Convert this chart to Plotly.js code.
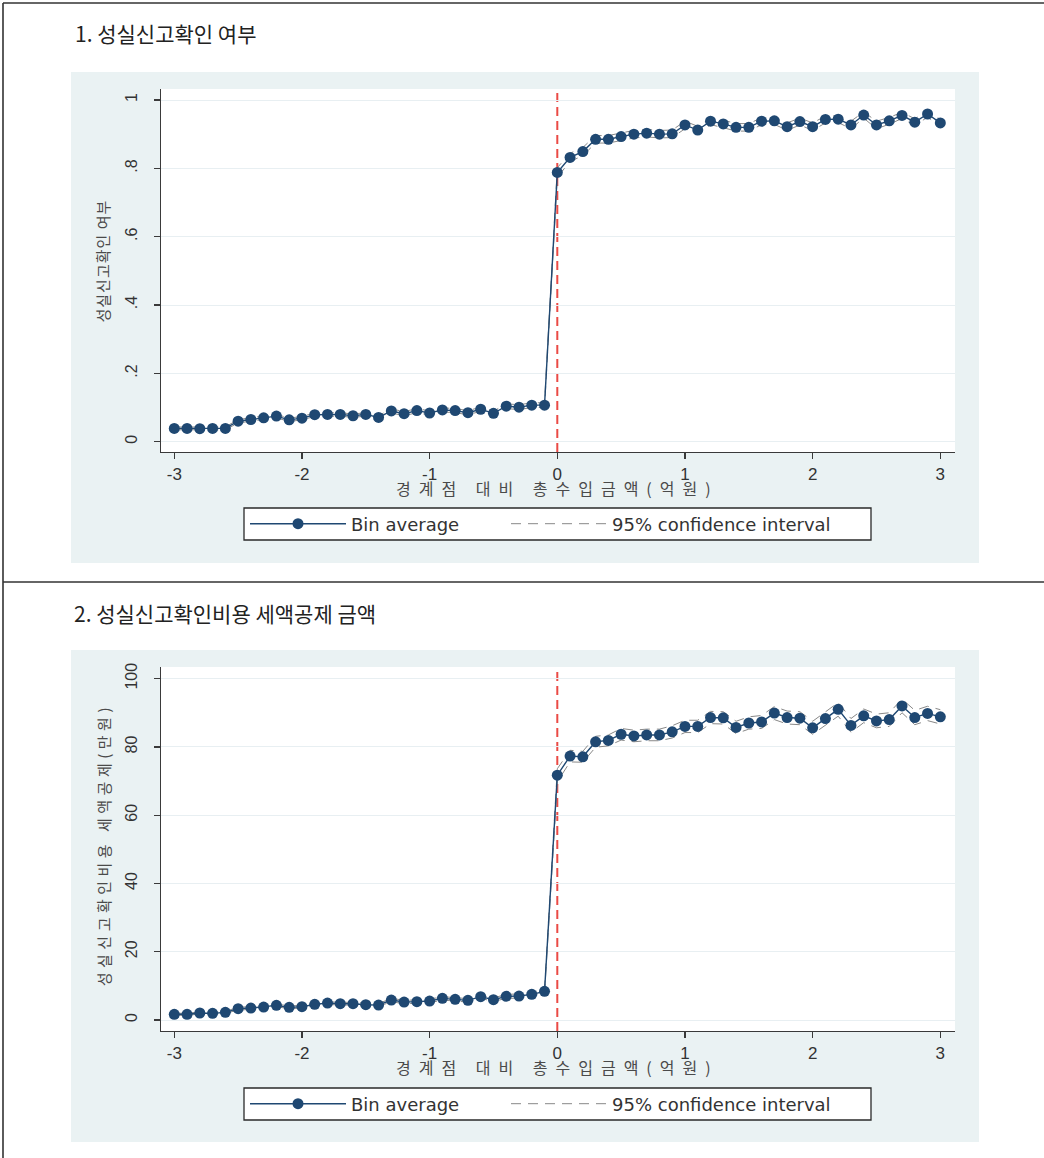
<!DOCTYPE html>
<html>
<head>
<meta charset="utf-8">
<script src="https://cdn.plot.ly/plotly-3.0.1.min.js"></script>
<style>
  html, body { margin: 0; padding: 0; background: #ffffff; }
  #chart { width: 1044px; height: 1158px; }
  /* Stata-style wide spacing for the Korean axis titles */
  #chart .annotation[data-index="2"] .annotation-text { letter-spacing: 1px; }
  #chart .annotation[data-index="3"] .annotation-text { letter-spacing: 4.5px; }
  #chart .annotation[data-index="4"] .annotation-text,
  #chart .annotation[data-index="5"] .annotation-text { letter-spacing: 8px; }
</style>
</head>
<body>
<div id="chart"></div>
<script>
// Bin centres: total revenue relative to the threshold (억원)
const binX = [
  -3.0, -2.9, -2.8, -2.7, -2.6, -2.5, -2.4, -2.3, -2.2, -2.1,
  -2.0, -1.9, -1.8, -1.7, -1.6, -1.5, -1.4, -1.3, -1.2, -1.1,
  -1.0, -0.9, -0.8, -0.7, -0.6, -0.5, -0.4, -0.3, -0.2, -0.1,
   0.0,  0.1,  0.2,  0.3,  0.4,  0.5,  0.6,  0.7,  0.8,  0.9,
   1.0,  1.1,  1.2,  1.3,  1.4,  1.5,  1.6,  1.7,  1.8,  1.9,
   2.0,  2.1,  2.2,  2.3,  2.4,  2.5,  2.6,  2.7,  2.8,  2.9, 3.0
];

// 1. 성실신고확인 여부 — bin averages and 95% CI half-widths
const confirmShare = [
  0.039, 0.039, 0.038, 0.039, 0.039, 0.060, 0.065, 0.070, 0.075, 0.064,
  0.069, 0.079, 0.080, 0.080, 0.076, 0.080, 0.071, 0.090, 0.082, 0.091,
  0.084, 0.093, 0.091, 0.085, 0.095, 0.083, 0.104, 0.101, 0.107, 0.107,
  0.788, 0.832, 0.849, 0.885, 0.885, 0.893, 0.900, 0.903, 0.900, 0.901,
  0.927, 0.912, 0.938, 0.930, 0.920, 0.920, 0.938, 0.939, 0.922, 0.937,
  0.922, 0.943, 0.944, 0.927, 0.956, 0.927, 0.939, 0.955, 0.935, 0.959, 0.933
];
const confirmShareCI = [
  0.004, 0.004, 0.004, 0.004, 0.004, 0.005, 0.005, 0.005, 0.005, 0.005,
  0.005, 0.005, 0.005, 0.005, 0.005, 0.005, 0.005, 0.006, 0.006, 0.006,
  0.006, 0.006, 0.006, 0.006, 0.006, 0.006, 0.007, 0.007, 0.007, 0.007,
  0.014, 0.012, 0.012, 0.011, 0.011, 0.011, 0.011, 0.011, 0.011, 0.011,
  0.011, 0.011, 0.010, 0.011, 0.011, 0.011, 0.010, 0.010, 0.011, 0.010,
  0.011, 0.010, 0.010, 0.011, 0.009, 0.011, 0.010, 0.009, 0.010, 0.009, 0.010
];

// 2. 성실신고확인비용 세액공제 금액 (만원) — bin averages and 95% CI half-widths
const creditAmount = [
  1.67, 1.67, 2.05, 1.95, 2.24, 3.32, 3.51, 3.80, 4.29, 3.71,
  3.90, 4.58, 4.97, 4.78, 4.78, 4.49, 4.39, 5.85, 5.27, 5.37,
  5.56, 6.34, 6.05, 5.76, 6.83, 5.95, 6.93, 7.02, 7.51, 8.39,
  71.7, 77.3, 77.1, 81.5, 81.9, 83.7, 83.2, 83.5, 83.5, 84.4,
  86.0, 86.0, 88.6, 88.5, 85.7, 87.0, 87.3, 89.9, 88.6, 88.4,
  85.6, 88.3, 91.0, 86.3, 89.1, 87.6, 88.0, 92.0, 88.6, 89.8, 88.8
];
const creditAmountCI = [
  0.3, 0.3, 0.3, 0.3, 0.3, 0.4, 0.4, 0.4, 0.4, 0.4,
  0.4, 0.4, 0.4, 0.4, 0.4, 0.4, 0.4, 0.5, 0.5, 0.5,
  0.5, 0.5, 0.5, 0.5, 0.5, 0.5, 0.6, 0.6, 0.6, 0.6,
  1.9, 1.7, 1.6, 1.6, 1.6, 1.7, 1.7, 1.7, 1.7, 1.8,
  1.8, 1.8, 1.8, 1.8, 1.8, 1.8, 1.9, 1.9, 1.9, 1.9,
  1.9, 1.9, 2.0, 2.0, 2.0, 2.0, 2.0, 2.0, 2.1, 2.1, 2.1
];

const xTickVals = [-3, -2, -1, 0, 1, 2, 3];
const xTickText = ['-3', '-2', '-1', '0', '1', '2', '3'];
const yTickVals1 = [0, 0.2, 0.4, 0.6, 0.8, 1];
const yTickText1 = ['0', '.2', '.4', '.6', '.8', '1'];
const yTickVals2 = [0, 20, 40, 60, 80, 100];

const panelTitles = ['1. 성실신고확인 여부', '2. 성실신고확인비용 세액공제 금액'];
const yTitles = ['성실신고확인 여부', '성실신고확인비용 세액공제(만원)'];
const xTitle = '경계점 대비 총수입금액(억원)';
const seriesNames = ['Bin average', '95% confidence interval'];

// ---- page geometry (pixels -> paper fractions)
const W = 1044, H = 1158;
const fx = p => p / W;
const fy = p => 1 - p / H;

const NAVY = '#1f4872';
const LATIN = 'Liberation Sans, Arial, sans-serif';
const KOR = 'Noto Sans CJK KR, sans-serif';

function avgTrace(y, xa, ya, legend) {
  return {
    type: 'scatter', mode: 'lines+markers', x: binX, y: y,
    xaxis: xa, yaxis: ya, legend: legend,
    name: seriesNames[0],
    line: { color: NAVY, width: 1.4 },
    marker: { color: NAVY, size: 11, line: { width: 0 } },
    hoverinfo: 'skip'
  };
}
function ciTrace(y, half, xa, ya, legend) {
  const hi = y.map((v, i) => v + half[i]);
  const lo = y.map((v, i) => v - half[i]);
  return {
    type: 'scatter', mode: 'lines',
    x: binX.concat([null], binX), y: hi.concat([null], lo),
    connectgaps: false,
    xaxis: xa, yaxis: ya, legend: legend,
    name: seriesNames[1],
    line: { color: '#888888', width: 1, dash: '10px,7px' },
    hoverinfo: 'skip'
  };
}

const data = [
  ciTrace(confirmShare, confirmShareCI, 'x', 'y', 'legend3'),
  avgTrace(confirmShare, 'x', 'y', 'legend'),
  ciTrace(creditAmount, creditAmountCI, 'x2', 'y2', 'legend4'),
  avgTrace(creditAmount, 'x2', 'y2', 'legend2')
];

const axisLine = '#3a3a3a';
function xAxis(anchor) {
  return {
    domain: [fx(161), fx(955)], anchor: anchor,
    range: [-3.104, 3.115], tickvals: xTickVals, ticktext: xTickText,
    showline: true, linecolor: axisLine, linewidth: 1.3,
    ticks: 'outside', ticklen: 6, tickcolor: axisLine, tickwidth: 1.3,
    tickfont: { family: LATIN, size: 17, color: '#333' },
    showgrid: false, zeroline: false, fixedrange: true
  };
}
function yAxis(dom, range, vals, text, anchor) {
  const a = {
    domain: dom, anchor: anchor, range: range, tickvals: vals,
    tickangle: -90, ticklabelstandoff: 10,
    showline: true, linecolor: axisLine, linewidth: 1.3,
    ticks: 'outside', ticklen: 6, tickcolor: axisLine, tickwidth: 1.3,
    tickfont: { family: LATIN, size: 16, color: '#333' },
    showgrid: true, gridcolor: '#e8eff2', gridwidth: 1,
    zeroline: false, fixedrange: true
  };
  if (text) a.ticktext = text;
  return a;
}

function legendAt(left, centerY) {
  return {
    x: fx(left), xanchor: 'left', y: fy(centerY), yanchor: 'middle',
    orientation: 'h', bgcolor: 'rgba(0,0,0,0)', borderwidth: 0,
    itemwidth: 96,
    font: { family: 'DejaVu Sans, sans-serif', size: 18, color: '#333' }
  };
}

const shapes = [];
// panel backgrounds and white plot regions
[[72, 563, 89, 452], [650, 1142, 667, 1031]].forEach(([t, b, pt, pb]) => {
  shapes.push({ type: 'rect', xref: 'paper', yref: 'paper', layer: 'below',
    x0: fx(71), x1: fx(979), y0: fy(b), y1: fy(t),
    fillcolor: '#eaf2f3', line: { width: 0 } });
  shapes.push({ type: 'rect', xref: 'paper', yref: 'paper', layer: 'below',
    x0: fx(161), x1: fx(955), y0: fy(pb), y1: fy(pt),
    fillcolor: '#ffffff', line: { width: 0 } });
});
// threshold markers at 0
[['x', 'y domain'], ['x2', 'y2 domain']].forEach(([xr, yr]) => {
  shapes.push({ type: 'line', xref: xr, yref: yr, layer: 'below',
    x0: 0, x1: 0, y0: 0, y1: 1,
    line: { color: '#ea4a45', width: 2, dash: '9px,5px' } });
});
// legend frames
[[508, 540], [1088, 1120]].forEach(([t, b]) => {
  shapes.push({ type: 'rect', xref: 'paper', yref: 'paper', layer: 'below',
    x0: fx(244), x1: fx(871), y0: fy(b), y1: fy(t),
    fillcolor: '#ffffff', line: { color: '#2a2a2a', width: 1.3 } });
});
// table frame lines
shapes.push({ type: 'line', xref: 'paper', yref: 'paper', layer: 'above',
  x0: fx(3), x1: fx(3), y0: 0, y1: fy(3), line: { color: '#333', width: 1.6 } });
shapes.push({ type: 'line', xref: 'paper', yref: 'paper', layer: 'above',
  x0: fx(3), x1: 1, y0: fy(3), y1: fy(3), line: { color: '#333', width: 1.6 } });
shapes.push({ type: 'line', xref: 'paper', yref: 'paper', layer: 'above',
  x0: fx(3), x1: 1, y0: fy(582), y1: fy(582), line: { color: '#333', width: 1.6 } });

const annotations = [
  { text: panelTitles[0], x: fx(73), y: fy(33) },
  { text: panelTitles[1], x: fx(72), y: fy(613) }
].map(a => Object.assign({ xref: 'paper', yref: 'paper', xanchor: 'left', yanchor: 'middle',
  showarrow: false, font: { family: KOR, size: 21, color: '#222' } }, a));

annotations.push(
  { text: yTitles[0], x: fx(102), y: fy(261), textangle: -90, font: { family: KOR, size: 15, color: '#4a4a4a' } },
  { text: yTitles[1], x: fx(103), y: fy(845), textangle: -90, font: { family: KOR, size: 15, color: '#4a4a4a' } },
  { text: xTitle, x: fx(557), y: fy(488), font: { family: KOR, size: 16, color: '#4a4a4a' } },
  { text: xTitle, x: fx(557), y: fy(1067), font: { family: KOR, size: 16, color: '#4a4a4a' } }
);
for (let i = 2; i < annotations.length; i++) {
  Object.assign(annotations[i], { xref: 'paper', yref: 'paper', xanchor: 'center', yanchor: 'middle', showarrow: false });
}

const layout = {
  width: W, height: H,
  margin: { l: 0, r: 0, t: 0, b: 0 },
  paper_bgcolor: '#ffffff', plot_bgcolor: 'rgba(0,0,0,0)',
  showlegend: true,
  xaxis: xAxis('y'),
  yaxis: yAxis([fy(452), fy(89)], [-0.0301, 1.0322], yTickVals1, yTickText1, 'x'),
  xaxis2: xAxis('y2'),
  yaxis2: yAxis([fy(1031), fy(667)], [-3.22, 103.4], yTickVals2, null, 'x2'),
  legend: legendAt(245, 524),
  legend3: legendAt(506, 524),
  legend2: legendAt(245, 1104),
  legend4: legendAt(506, 1104),
  shapes: shapes,
  annotations: annotations
};

Plotly.newPlot('chart', data, layout, { displayModeBar: false, staticPlot: true });
</script>
</body>
</html>
